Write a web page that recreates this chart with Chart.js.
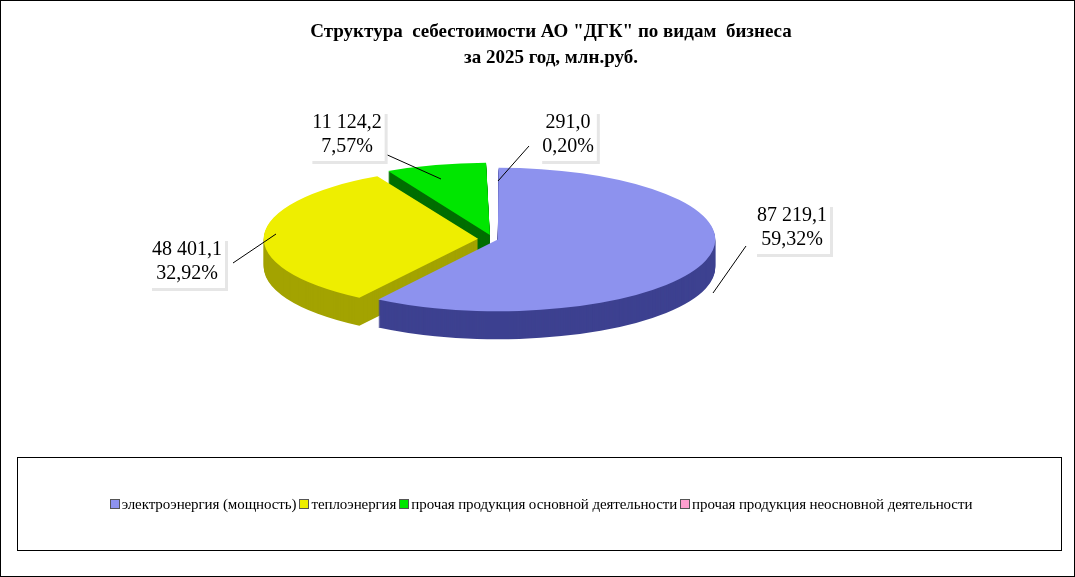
<!DOCTYPE html>
<html lang="ru">
<head>
  <meta charset="UTF-8">
  <title>Структура себестоимости</title>
  <script src="https://cdn.jsdelivr.net/npm/chart.js"></script>
  <style>
    body { margin: 0; background: #fff; font-family: "Liberation Serif", serif; }
    #wrap { position: relative; width: 1073px; height: 575px; border: 1px solid #000; }
    #title { position: absolute; top: 17px; left: 0; width: 1100px; text-align: center;
      font-weight: bold; font-size: 19px; line-height: 26px; }
    canvas { position: absolute; left: 0; top: 0; }
    #legend { position: absolute; left: 16px; top: 456px; width: 1043px; height: 92px;
      border: 1px solid #000; display: flex; align-items: center; justify-content: center;
      font-size: 15px; white-space: nowrap; letter-spacing: -0.1px; }
    #legend span.sq { display: inline-block; width: 8px; height: 8px; border: 1px solid #555;
      margin: 0 2px 0 3px; vertical-align: middle; }
  </style>
</head>
<body>
<div id="wrap">
  <canvas id="pie" width="1073" height="575"></canvas>
  <div id="title">Структура&nbsp; себестоимости АО "ДГК" по видам&nbsp; бизнеса<br>за 2025 год, млн.руб.</div>
  <div id="legend"></div>
</div>
<script>
  const categories = ['электроэнергия (мощность)', 'теплоэнергия',
    'прочая продукция основной деятельности', 'прочая продукция неосновной деятельности'];
  const values = [87219.1, 48401.1, 11124.2, 291.0];
  const valueLabels = ['87 219,1', '48 401,1', '11 124,2', '291,0'];
  const percentLabels = ['59,32%', '32,92%', '7,57%', '0,20%'];
  const topColors = ['#8d92ee', '#eeee00', '#00e600', '#ff9fcf'];
  const sideColors = ['#3d4190', '#a3a300', '#006e00', '#b0507a'];
  const sliceOffsets = [20, 60, 50, 50];

  // label box centre/top and leader line [boxX, boxY, lineFromX, lineFromY, lineToX, lineToY]
  const labelPos = [
    [791, 203, 745, 245, 712, 292],
    [186, 237, 232, 262, 275, 233],
    [346, 110, 382, 152, 440, 178],
    [567, 110, 528, 145, 497, 180]
  ];

  const legend = document.getElementById('legend');
  legend.innerHTML = categories.map((c, i) =>
    `<span class="sq" style="background:${topColors[i]}"></span>${c}`).join('');

  const K = 0.33, DEPTH = 28, CX = 492, CY = 238;

  function setT(ctx, chart, dy) {
    const a = chart.chartArea;
    const cy = (a.top + a.bottom) / 2, cx = (a.left + a.right) / 2;
    ctx.translate(CX, CY + dy);
    ctx.scale(1, K);
    ctx.translate(-cx, -cy);
  }

  const pie3d = {
    id: 'pie3d',
    beforeDatasetsDraw(chart) {
      const ctx = chart.ctx;
      const arcs = chart.getDatasetMeta(0).data;
      for (let d = DEPTH; d > 0; d -= 1) {
        ctx.save();
        setT(ctx, chart, d);
        arcs.forEach((el, i) => {
          const bg = el.options.backgroundColor;
          el.options.backgroundColor = sideColors[i];
          el.draw(ctx);
          el.options.backgroundColor = bg;
        });
        ctx.restore();
      }
      ctx.save();
      setT(ctx, chart, 0);
    },
    afterDatasetsDraw(chart) {
      chart.ctx.restore();
      const ctx = chart.ctx;
      ctx.font = '20px "Liberation Serif", serif';
      ctx.textBaseline = 'top';
      labelPos.forEach((p, i) => {
        ctx.strokeStyle = '#000';
        ctx.lineWidth = 1;
        ctx.beginPath();
        ctx.moveTo(p[2], p[3]);
        ctx.lineTo(p[4], p[5]);
        ctx.stroke();
        const w = Math.max(ctx.measureText(valueLabels[i]).width, ctx.measureText(percentLabels[i]).width) + 6;
        ctx.fillStyle = '#e6e6e6';
        ctx.fillRect(p[0] - w / 2 + 3, p[1] + 3, w, 50);
        ctx.fillStyle = '#fff';
        ctx.fillRect(p[0] - w / 2, p[1], w, 50);
        ctx.fillStyle = '#000';
        ctx.textAlign = 'center';
        ctx.fillText(valueLabels[i], p[0], p[1] + 2);
        ctx.fillText(percentLabels[i], p[0], p[1] + 26);
      });
    }
  };

  new Chart(document.getElementById('pie'), {
    type: 'pie',
    data: {
      labels: categories,
      datasets: [{
        data: values,
        backgroundColor: topColors,
        borderWidth: 0,
        offset: sliceOffsets,
        clip: false
      }]
    },
    options: {
      responsive: false,
      animation: false,
      layout: { padding: { left: 250, right: 330, top: 45, bottom: 45 } },
      plugins: { legend: { display: false }, tooltip: { enabled: false } }
    },
    plugins: [pie3d]
  });
</script>
</body>
</html>
